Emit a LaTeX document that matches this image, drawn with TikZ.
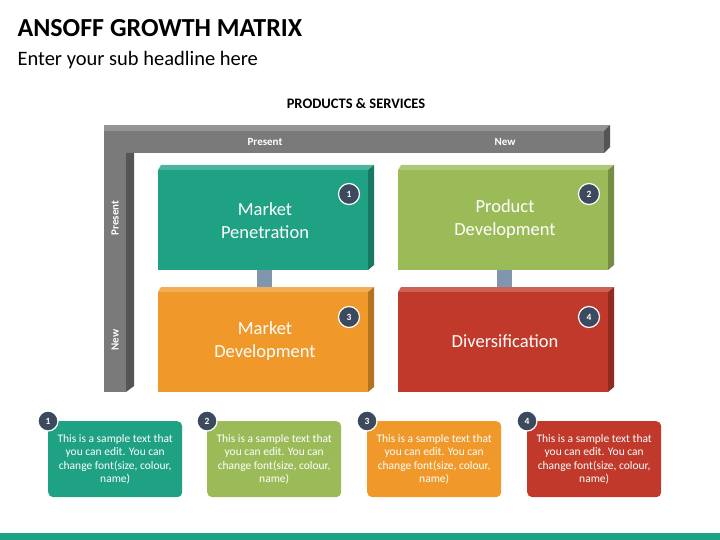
\documentclass[tikz,border=0pt]{standalone}
\usepackage{fontspec}
\setmainfont{Carlito}
\usepackage{tikz}
\usetikzlibrary{positioning}
\definecolor{teal1}{HTML}{1FA184}
\definecolor{green1}{HTML}{9BBB59}
\definecolor{orange1}{HTML}{F0992A}
\definecolor{red1}{HTML}{C0392B}
\definecolor{gray1}{HTML}{7A7A7A}
\definecolor{navy1}{HTML}{3D4A5E}
\definecolor{post1}{HTML}{8096AE}

\begin{document}
\begin{tikzpicture}[x=1pt,y=-1pt,
    quad/.style={minimum width=210pt,minimum height=100pt,inner sep=0pt},
    qtext/.style={text=white,align=center,font=\fontsize{18.5}{23}\selectfont},
    num/.style={circle,fill=navy1,draw=white,line width=1.2pt,minimum size=21pt,inner sep=0pt,
                text=white,font=\bfseries\fontsize{9.5}{9.5}\selectfont},
    card/.style={rounded corners=5pt,minimum width=134pt,minimum height=76pt,inner sep=0pt,
                 text=white,font=\fontsize{11.5}{13.5}\selectfont,align=center},
    axis/.style={text=white,font=\bfseries\fontsize{11}{11}\selectfont}]
  \useasboundingbox[fill=white] (0,0) rectangle (720,540);

  \node[anchor=west,font=\bfseries\fontsize{26}{26}\selectfont] (title) at (14,28) {ANSOFF GROWTH MATRIX};
  \node[anchor=west,font=\fontsize{20.5}{20.5}\selectfont] (sub) at (14,60) {Enter your sub headline here};
  \node[font=\bfseries\fontsize{14.5}{14.5}\selectfont] (ps) at (356,104) {PRODUCTS \& SERVICES};

  % frame
  \fill[gray1!80] (104,125) -- (610,125) -- (610,131) -- (104,131) -- cycle;
  \fill[gray1] (104,131) rectangle (604,153);
  \fill[gray1!70!black] (604,131) -- (610,125) -- (610,147) -- (604,153) -- cycle;
  \fill[gray1] (104,131) rectangle (126,392);
  \fill[gray1!70!black] (126,153) -- (134,153) -- (134,386) -- (126,392) -- cycle;
  \node[axis] (colA) at (265,142) {Present};
  \node[axis] (colB) at (505,142) {New};
  \node[axis,rotate=90] (rowA) at (115,218) {Present};
  \node[axis,rotate=90] (rowB) at (115,340) {New};

  % posts
  \fill[post1] (257,270) rectangle (272,292);
  \fill[post1] (497,270) rectangle (512,292);

  % boxes
  \foreach \x/\y/\c/\n in {158/170/teal1/mp,398/170/green1/pd,158/292/orange1/md,398/292/red1/dv}{
    \fill[\c!80!white] (\x+3,\y-5) -- (\x+216,\y-5) -- (\x+210,\y) -- (\x,\y) -- cycle;
    \fill[\c!75!black] (\x+210,\y) -- (\x+216,\y-5) -- (\x+216,\y+95) -- (\x+210,\y+100) -- cycle;
    \node[quad,fill=\c,anchor=north west] (\n) at (\x,\y) {};
  }
  \node[qtext] at (265,221) {Market\\Penetration};
  \node[qtext] at (505,219) {Product\\Development};
  \node[qtext] at (265,341) {Market\\Development};
  \node[qtext] at (505,341) {Diversification};
  \node[num] (n1) at (349,194) {1};
  \node[num] (n2) at (589,194) {2};
  \node[num] (n3) at (349,317) {3};
  \node[num] (n4) at (589,317) {4};

  % cards
  \foreach \x/\c/\k in {48/teal1/1,207/green1/2,367/orange1/3,527/red1/4}{
    \node[card,fill=\c,anchor=north west] (c\k) at (\x,421)
      {This is a sample text that\\you can edit. You can\\change font(size, colour,\\name)};
    \node[num,minimum size=20pt] (cn\k) at (c\k.north west) {\k};
  }

  \fill[teal1] (0,533) rectangle (720,540);
\end{tikzpicture}
\end{document}
